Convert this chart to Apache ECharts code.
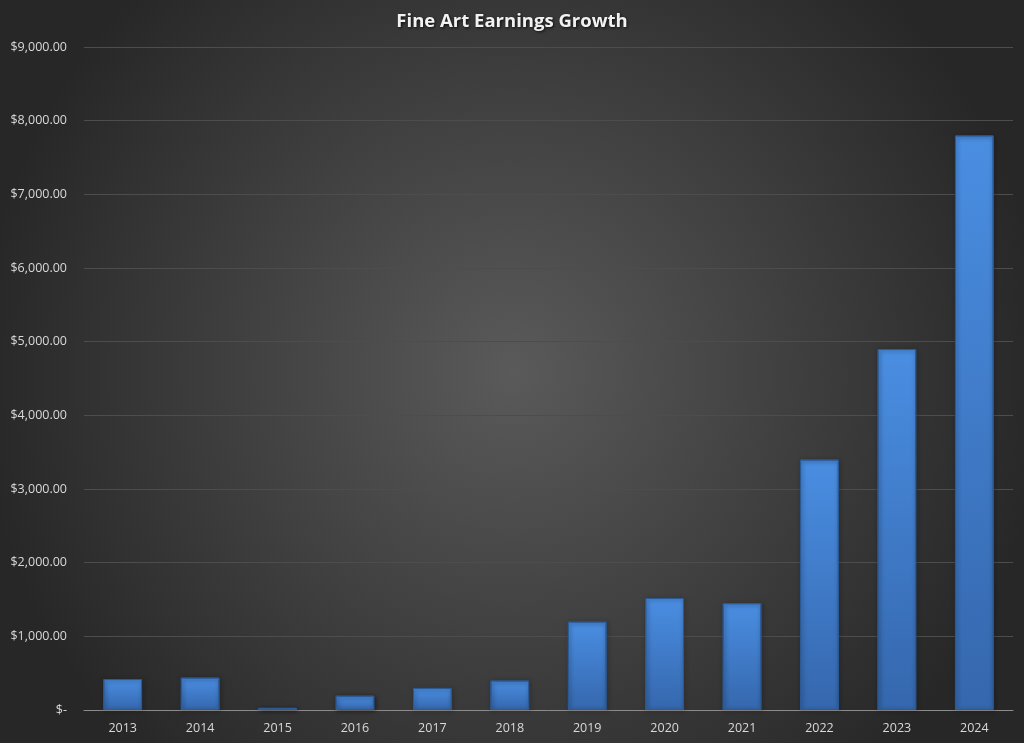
<!DOCTYPE html>
<html>
<head>
<meta charset="utf-8">
<script src="https://cdn.jsdelivr.net/npm/echarts@6/dist/echarts.min.js"></script>
<style>
html,body{margin:0;padding:0;background:#333;}
#chart{width:1024px;height:743px;}
</style>
</head>
<body>
<div id="chart"></div>
<script>
const titleText = "Fine Art Earnings Growth";
const years = ["2013","2014","2015","2016","2017","2018","2019","2020","2021","2022","2023","2024"];
const earnings = [420, 440, 30, 195, 300, 400, 1200, 1520, 1450, 3400, 4900, 7800];
const yMin = 0, yMax = 9000, yStep = 1000;

function fmt(v){
  if (v === 0) return '$-';
  return '$' + v.toLocaleString('en-US', {minimumFractionDigits:2, maximumFractionDigits:2});
}

const chart = echarts.init(document.getElementById('chart'));
chart.setOption({
  backgroundColor: {
    type: 'radial', x: 0.5, y: 0.5, r: 0.72,
    colorStops: [
      {offset: 0, color: '#5a5a5a'},
      {offset: 1, color: '#272727'}
    ]
  },
  title: {
    text: titleText,
    left: 'center',
    top: 7,
    textStyle: {
      color: '#f2f2f2',
      fontSize: 18.5,
      fontWeight: 'bold',
      fontFamily: 'Open Sans',
      textShadowColor: 'rgba(0,0,0,0.8)',
      textShadowBlur: 3,
      textShadowOffsetX: 1,
      textShadowOffsetY: 1
    }
  },
  grid: {left: 84, right: 11, top: 47, bottom: 33, containLabel: false},
  xAxis: {
    type: 'category',
    data: years,
    axisLine: {lineStyle: {color: '#8c8c8c', width: 1}},
    axisTick: {show: false},
    axisLabel: {color: '#d9d9d9', fontSize: 12.5, fontFamily: 'Open Sans', margin: 12}
  },
  yAxis: {
    type: 'value',
    min: yMin, max: yMax, interval: yStep,
    axisLine: {show: false},
    axisTick: {show: false},
    splitLine: {lineStyle: {color: '#4d4d4d', width: 1}},
    axisLabel: {color: '#d9d9d9', fontSize: 12.5, fontFamily: 'Open Sans', margin: 17, formatter: fmt}
  },
  series: [{
    type: 'bar',
    data: earnings,
    barWidth: '50%',
    itemStyle: {
      color: {
        type: 'linear', x: 0, y: 0, x2: 0, y2: 1,
        colorStops: [
          {offset: 0, color: '#4a8ee2'},
          {offset: 1, color: '#3567ad'}
        ]
      },
      borderColor: '#2c5a96',
      borderWidth: 1,
      shadowColor: 'rgba(0,0,0,0.5)',
      shadowBlur: 4,
      shadowOffsetX: 1,
      shadowOffsetY: 1
    }
  }]
});
</script>
</body>
</html>
